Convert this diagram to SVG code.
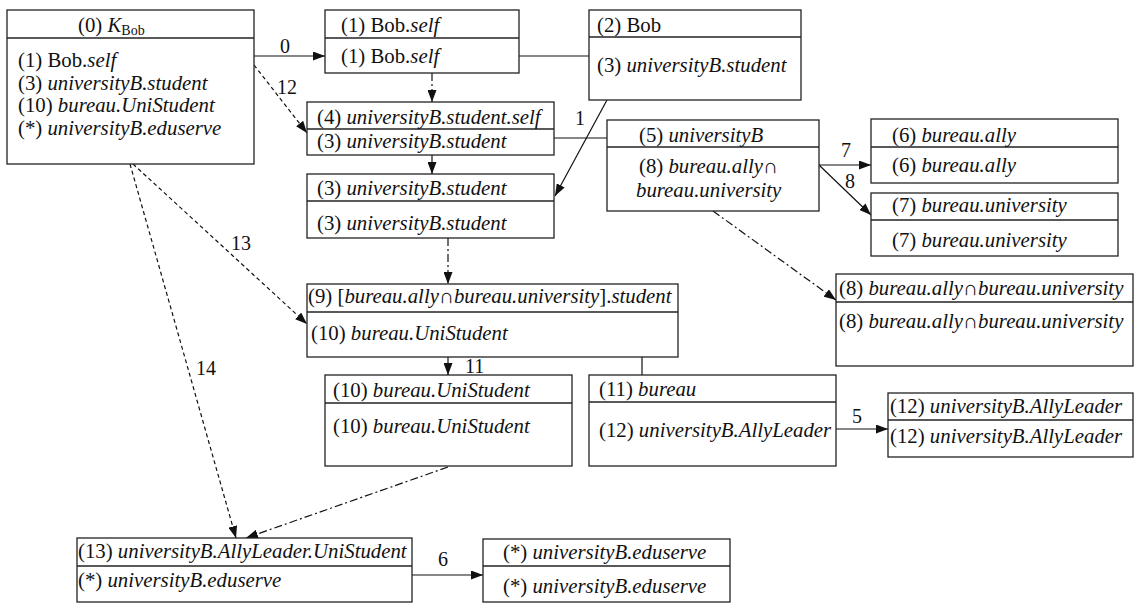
<svg xmlns="http://www.w3.org/2000/svg" width="1136" height="603" viewBox="0 0 1136 603">
<defs>
<marker id="ah" viewBox="0 0 12 9" refX="12" refY="4.5" markerWidth="12" markerHeight="9" markerUnits="userSpaceOnUse" orient="auto">
<path d="M0,0 L12,4.5 L0,9 z" fill="#111"/>
</marker>
<style>
.box{fill:#fff;stroke:#222;stroke-width:1.3}
.div{stroke:#222;stroke-width:1.3}
.t{font-size:20.8px;fill:#111}
.i{font-style:italic}
.c{fill:none;stroke:#111;stroke-width:1.2}
.a{marker-end:url(#ah)}
.dash{stroke-dasharray:4,3}
.dd{stroke-dasharray:8,3,2,3}
.lbl{font-size:20px;fill:#111}
</style>
</defs>
<rect width="1136" height="603" fill="#fff"/>
<g font-family="Liberation Serif, Times New Roman, Tinos, Noto Serif, DejaVu Serif, serif">
<g id="connectors">
<line class="c a" x1="254" y1="56" x2="325" y2="56"/>
<text class="lbl" x="280" y="53">0</text>
<line class="c" x1="519" y1="56" x2="589" y2="56"/>
<line class="c a dd" x1="432" y1="73" x2="432" y2="102"/>
<line class="c a dash" x1="254" y1="65" x2="307" y2="133"/>
<text class="lbl" x="277" y="94">12</text>
<line class="c a" x1="432" y1="155" x2="432" y2="174"/>
<line class="c" x1="554" y1="138" x2="607" y2="138"/>
<line class="c a" x1="607" y1="100" x2="555" y2="196"/>
<text class="lbl" x="575" y="125">1</text>
<line class="c a" x1="819" y1="165" x2="871" y2="165"/>
<text class="lbl" x="841" y="157">7</text>
<line class="c a" x1="819" y1="165" x2="871" y2="215"/>
<text class="lbl" x="845" y="188">8</text>
<line class="c a dd" x1="713" y1="211" x2="836" y2="300"/>
<line class="c a dd" x1="448" y1="238" x2="448" y2="284"/>
<line class="c a dash" x1="133" y1="164" x2="307" y2="324"/>
<text class="lbl" x="231" y="250">13</text>
<line class="c a dash" x1="130" y1="164" x2="236" y2="538"/>
<text class="lbl" x="196" y="375">14</text>
<line class="c a dd" x1="448" y1="467" x2="246" y2="538"/>
<line class="c a" x1="448" y1="357" x2="448" y2="375"/>
<text class="lbl" x="465" y="373">11</text>
<line class="c" x1="642" y1="357" x2="642" y2="375"/>
<line class="c a" x1="836" y1="429" x2="888" y2="429"/>
<text class="lbl" x="852" y="423">5</text>
<line class="c a" x1="412" y1="575" x2="483" y2="575"/>
<text class="lbl" x="438" y="566">6</text>
</g>
<g id="n0">
<rect class="box" x="7" y="10" width="247" height="154"/>
<line class="div" x1="7" y1="38" x2="254" y2="38"/>
<text class="t" x="78" y="32">(0) <tspan class="i">K</tspan><tspan font-size="14" dy="3">Bob</tspan></text>
<text class="t" x="18" y="67">(1) Bob.<tspan class="i">self</tspan></text>
<text class="t" x="18" y="90">(3) <tspan class="i">universityB.student</tspan></text>
<text class="t" x="18" y="112">(10) <tspan class="i">bureau.UniStudent</tspan></text>
<text class="t" x="18" y="135">(*) <tspan class="i">universityB.eduserve</tspan></text>
</g>
<g id="n1">
<rect class="box" x="325" y="10" width="194" height="63"/>
<line class="div" x1="325" y1="38" x2="519" y2="38"/>
<text class="t" x="341" y="32">(1) Bob.<tspan class="i">self</tspan></text>
<text class="t" x="341" y="63">(1) Bob.<tspan class="i">self</tspan></text>
</g>
<g id="n2">
<rect class="box" x="589" y="10" width="212" height="90"/>
<line class="div" x1="589" y1="37" x2="801" y2="37"/>
<text class="t" x="597" y="32">(2) Bob</text>
<text class="t" x="597" y="72">(3) <tspan class="i">universityB.student</tspan></text>
</g>
<g id="n4">
<rect class="box" x="307" y="102" width="247" height="53"/>
<line class="div" x1="307" y1="129" x2="554" y2="129"/>
<text class="t" x="317" y="124">(4) <tspan class="i">universityB.student.self</tspan></text>
<text class="t" x="317" y="148">(3) <tspan class="i">universityB.student</tspan></text>
</g>
<g id="n3">
<rect class="box" x="307" y="174" width="247" height="64"/>
<line class="div" x1="307" y1="201" x2="554" y2="201"/>
<text class="t" x="317" y="195">(3) <tspan class="i">universityB.student</tspan></text>
<text class="t" x="317" y="230">(3) <tspan class="i">universityB.student</tspan></text>
</g>
<g id="n5">
<rect class="box" x="607" y="120" width="212" height="91"/>
<line class="div" x1="607" y1="147" x2="819" y2="147"/>
<text class="t" x="639" y="142">(5) <tspan class="i">universityB</tspan></text>
<text class="t" x="639" y="173">(8) <tspan class="i">bureau.ally</tspan>∩</text>
<text class="t i" x="636" y="197">bureau.university</text>
</g>
<g id="n6">
<rect class="box" x="871" y="119" width="247" height="64"/>
<line class="div" x1="871" y1="147" x2="1118" y2="147"/>
<text class="t" x="892" y="142">(6) <tspan class="i">bureau.ally</tspan></text>
<text class="t" x="892" y="172">(6) <tspan class="i">bureau.ally</tspan></text>
</g>
<g id="n7">
<rect class="box" x="871" y="193" width="247" height="63"/>
<line class="div" x1="871" y1="220" x2="1118" y2="220"/>
<text class="t" x="892" y="212">(7) <tspan class="i">bureau.university</tspan></text>
<text class="t" x="892" y="247">(7) <tspan class="i">bureau.university</tspan></text>
</g>
<g id="n8">
<rect class="box" x="836" y="274" width="297" height="92"/>
<line class="div" x1="836" y1="302" x2="1133" y2="302"/>
<text class="t" x="839" y="295">(8) <tspan class="i">bureau.ally</tspan>∩<tspan class="i">bureau.university</tspan></text>
<text class="t" x="839" y="328">(8) <tspan class="i">bureau.ally</tspan>∩<tspan class="i">bureau.university</tspan></text>
</g>
<g id="n9">
<rect class="box" x="307" y="284" width="371" height="73"/>
<line class="div" x1="307" y1="312" x2="678" y2="312"/>
<text class="t" x="308" y="303">(9) [<tspan class="i">bureau.ally</tspan>∩<tspan class="i">bureau.university</tspan>].<tspan class="i">student</tspan></text>
<text class="t" x="311" y="340">(10) <tspan class="i">bureau.UniStudent</tspan></text>
</g>
<g id="n10">
<rect class="box" x="325" y="375" width="247" height="91"/>
<line class="div" x1="325" y1="403" x2="572" y2="403"/>
<text class="t" x="333" y="397">(10) <tspan class="i">bureau.UniStudent</tspan></text>
<text class="t" x="333" y="433">(10) <tspan class="i">bureau.UniStudent</tspan></text>
</g>
<g id="n11">
<rect class="box" x="589" y="375" width="247" height="91"/>
<line class="div" x1="589" y1="402" x2="836" y2="402"/>
<text class="t" x="599" y="396">(11) <tspan class="i">bureau</tspan></text>
<text class="t" x="599" y="437">(12) <tspan class="i">universityB.AllyLeader</tspan></text>
</g>
<g id="n12">
<rect class="box" x="888" y="393" width="245" height="64"/>
<line class="div" x1="888" y1="420" x2="1133" y2="420"/>
<text class="t" x="890" y="413">(12) <tspan class="i">universityB.AllyLeader</tspan></text>
<text class="t" x="890" y="443">(12) <tspan class="i">universityB.AllyLeader</tspan></text>
</g>
<g id="n13">
<rect class="box" x="77" y="538" width="335" height="64"/>
<line class="div" x1="77" y1="566" x2="412" y2="566"/>
<text class="t" x="78" y="558">(13) <tspan class="i">universityB.AllyLeader.UniStudent</tspan></text>
<text class="t" x="78" y="587">(*) <tspan class="i">universityB.eduserve</tspan></text>
</g>
<g id="n14">
<rect class="box" x="483" y="539" width="247" height="63"/>
<line class="div" x1="483" y1="566" x2="730" y2="566"/>
<text class="t" x="503" y="559">(*) <tspan class="i">universityB.eduserve</tspan></text>
<text class="t" x="503" y="593">(*) <tspan class="i">universityB.eduserve</tspan></text>
</g>
</g>
</svg>
